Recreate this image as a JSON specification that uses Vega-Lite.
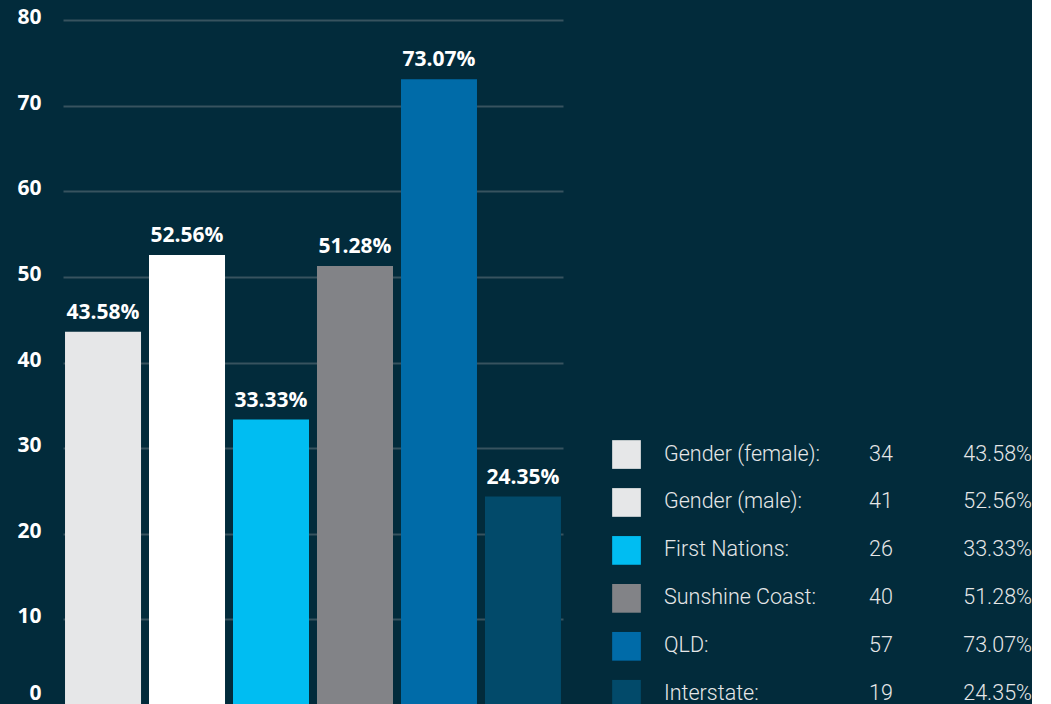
{
  "$schema": "https://vega.github.io/schema/vega-lite/v6.json",
  "background": "#022b3b",
  "padding": {"left": 0, "top": 6, "right": 0, "bottom": 0},
  "autosize": {"type": "pad"},
  "config": {"view": {"stroke": null}, "concat": {"spacing": 49}},
  "datasets": {
    "groups": [
      {"group": "Gender (female)", "count": 34, "percent": 43.58},
      {"group": "Gender (male)", "count": 41, "percent": 52.56},
      {"group": "First Nations", "count": 26, "percent": 33.33},
      {"group": "Sunshine Coast", "count": 40, "percent": 51.28},
      {"group": "QLD", "count": 57, "percent": 73.07},
      {"group": "Interstate", "count": 19, "percent": 24.35}
    ]
  },
  "resolve": {"scale": {"color": "independent"}},
  "hconcat": [
    {
      "width": 500,
      "height": 685,
      "data": {"name": "groups"},
      "encoding": {
        "x": {"field": "group", "type": "nominal", "sort": null, "scale": {"paddingInner": 0.095, "paddingOuter": 0.024}, "axis": null},
        "y": {
          "field": "percent", "type": "quantitative",
          "scale": {"domain": [0, 80], "nice": false},
          "axis": {
            "values": [0, 10, 20, 30, 40, 50, 60, 70, 80],
            "title": null, "domain": false, "ticks": false,
            "grid": true, "gridColor": "#37535f", "gridWidth": 2,
            "labelFont": "Open Sans", "labelFontWeight": "bold", "labelFontSize": 21, "labelColor": "#ffffff",
            "labelPadding": 22, "minExtent": 63, "maxExtent": 63,
            "labelBaseline": {"condition": {"test": "datum.value === 0", "value": "bottom"}, "value": "middle"},
            "labelOffset": {"condition": {"test": "datum.value === 0", "value": -2}, "value": -2.5}
          }
        }
      },
      "layer": [
        {
          "mark": {"type": "bar"},
          "encoding": {
            "color": {
              "field": "group", "type": "nominal", "legend": null,
              "scale": {
                "domain": ["Gender (female)", "Gender (male)", "First Nations", "Sunshine Coast", "QLD", "Interstate"],
                "range": ["#e6e7e8", "#ffffff", "#00bdf2", "#828387", "#006ba8", "#024a6a"]
              }
            }
          }
        },
        {
          "mark": {
            "type": "text", "font": "Open Sans", "fontWeight": "bold", "fontSize": 21, "color": "#ffffff",
            "baseline": "alphabetic", "align": "center", "dy": -13,
            "text": {"expr": "format(datum.percent, '.2f') + '%'"}
          }
        }
      ]
    },
    {
      "width": 420,
      "height": 685,
      "data": {"name": "groups"},
      "transform": [{"window": [{"op": "row_number", "as": "row"}]}],
      "encoding": {
        "y": {"field": "row", "type": "quantitative", "axis": null,
              "scale": {"domain": [-8.062, 6.224], "reverse": true, "nice": false, "zero": false}}
      },
      "layer": [
        {
          "mark": {"type": "square", "size": 824, "filled": true, "opacity": 1, "strokeWidth": 0},
          "encoding": {
            "x": {"datum": 14.5, "type": "quantitative", "scale": {"domain": [0, 420], "nice": false, "zero": false}, "axis": null},
            "color": {
              "field": "group", "type": "nominal", "legend": null,
              "scale": {
                "domain": ["Gender (female)", "Gender (male)", "First Nations", "Sunshine Coast", "QLD", "Interstate"],
                "range": ["#e6e7e8", "#e6e7e8", "#00bdf2", "#828387", "#006ba8", "#024a6a"]
              }
            }
          }
        },
        {
          "mark": {"type": "text", "align": "left", "baseline": "middle", "font": "Roboto", "fontWeight": 300, "fontSize": 21.5, "color": "#e6e7e8",
                   "text": {"expr": "datum.group + ':'"}},
          "encoding": {"x": {"datum": 52, "type": "quantitative", "scale": {"domain": [0, 420], "nice": false, "zero": false}}}
        },
        {
          "mark": {"type": "text", "align": "left", "baseline": "middle", "font": "Roboto", "fontWeight": 300, "fontSize": 21.5, "color": "#e6e7e8"},
          "encoding": {"x": {"datum": 257, "type": "quantitative", "scale": {"domain": [0, 420], "nice": false, "zero": false}}, "text": {"field": "count", "type": "quantitative"}}
        },
        {
          "mark": {"type": "text", "align": "right", "baseline": "middle", "font": "Roboto", "fontWeight": 300, "fontSize": 21.5, "color": "#e6e7e8",
                   "text": {"expr": "format(datum.percent, '.2f') + '%'"}},
          "encoding": {"x": {"datum": 420, "type": "quantitative", "scale": {"domain": [0, 420], "nice": false, "zero": false}}}
        }
      ]
    }
  ]
}
